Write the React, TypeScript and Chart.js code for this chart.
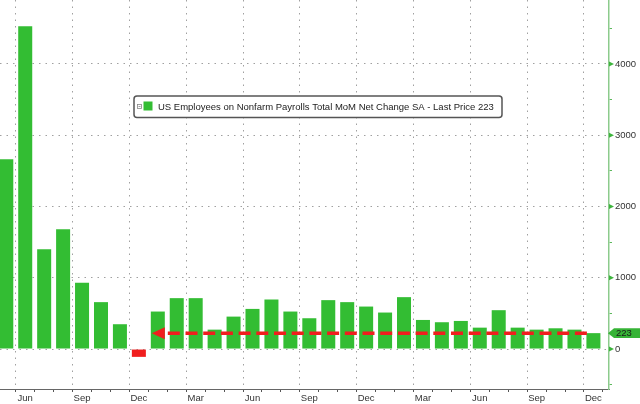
import React, { useEffect, useRef } from 'react';
import { Chart, registerables } from 'chart.js';

Chart.register(...registerables);

// ---- data ----
const MONTHS = [
  'May', 'Jun', 'Jul', 'Aug', 'Sep', 'Oct', 'Nov', 'Dec',
  'Jan', 'Feb', 'Mar', 'Apr', 'May', 'Jun', 'Jul', 'Aug', 'Sep', 'Oct', 'Nov', 'Dec',
  'Jan', 'Feb', 'Mar', 'Apr', 'May', 'Jun', 'Jul', 'Aug', 'Sep', 'Oct', 'Nov', 'Dec',
];
const VALUES = [
  2662, 4531, 1399, 1681, 930, 658, 348, -110,
  526, 714, 714, 272, 455, 563, 695, 526, 432, 686, 658, 596,
  512, 728, 408, 376, 394, 300, 545, 300, 272, 291, 272, 223,
];
const QUARTER_LABELS = ['Mar', 'Jun', 'Sep', 'Dec'];
const Y_TICKS = [-500, 0, 500, 1000, 1500, 2000, 2500, 3000, 3500, 4000, 4500];
const Y_MAJOR_TICKS = [0, 1000, 2000, 3000, 4000];
const LAST_PRICE = 223;
const ARROW_START_INDEX = 8; // Jan 2021
const SERIES_LABEL = 'US Employees on Nonfarm Payrolls Total MoM Net Change SA - Last Price 223';

// ---- view ----
const X_MIN = -0.332;
const X_MAX = 31.823;
const Y_MIN = -561;
const Y_MAX = 4898;

const GREEN = '#33bd33';
const RED = '#f01e1e';
const FONT_FAMILY = '"Liberation Sans", Arial, sans-serif';
const TEXT = '#333333';
const GRID = '#a0a0a0';

const isQuarter = (v: number) =>
  Number.isInteger(v) && v >= 0 && v < MONTHS.length && QUARTER_LABELS.includes(MONTHS[v]);
const isMajorY = (v: number) => Y_MAJOR_TICKS.includes(v);

const overlayPlugin = {
  id: 'overlay',
  afterDatasetsDraw(chart: any) {
    const { ctx, scales } = chart;
    const x = scales.x;
    const y = scales.y;
    const yv = y.getPixelForValue(LAST_PRICE);
    const x0 = x.getPixelForValue(ARROW_START_INDEX);
    const x1 = x.getPixelForValue(VALUES.length - 1);
    ctx.save();
    ctx.strokeStyle = RED;
    ctx.lineWidth = 3.5;
    ctx.setLineDash([12, 5.7]);
    ctx.beginPath();
    ctx.moveTo(x0 + 10, yv);
    ctx.lineTo(x1 - 2, yv);
    ctx.stroke();
    ctx.setLineDash([]);
    ctx.fillStyle = RED;
    ctx.beginPath();
    ctx.moveTo(x0 - 6, yv);
    ctx.lineTo(x0 + 7, yv - 6);
    ctx.lineTo(x0 + 7, yv + 6);
    ctx.closePath();
    ctx.fill();
    ctx.restore();
  },
  afterDraw(chart: any) {
    const { ctx, scales, width } = chart;
    const y = scales.y;
    const ax = y.left;
    ctx.save();
    // major tick arrowheads on the right axis
    ctx.fillStyle = '#3cb43c';
    Y_MAJOR_TICKS.forEach((v) => {
      const py = y.getPixelForValue(v);
      ctx.beginPath();
      ctx.moveTo(ax, py - 2.5);
      ctx.lineTo(ax + 5, py);
      ctx.lineTo(ax, py + 2.5);
      ctx.closePath();
      ctx.fill();
    });
    // last price tag
    const yv = y.getPixelForValue(LAST_PRICE);
    ctx.fillStyle = '#36b336';
    ctx.beginPath();
    ctx.moveTo(ax - 1, yv);
    ctx.lineTo(ax + 5, yv - 4.8);
    ctx.lineTo(width, yv - 4.8);
    ctx.lineTo(width, yv + 4.8);
    ctx.lineTo(ax + 5, yv + 4.8);
    ctx.closePath();
    ctx.fill();
    ctx.fillStyle = '#1a1a1a';
    ctx.font = `9.5px ${FONT_FAMILY}`;
    ctx.textBaseline = 'middle';
    ctx.textAlign = 'left';
    ctx.fillText(String(LAST_PRICE), ax + 7, yv + 0.5);

    // legend box
    const lx = 134, ly = 96, lw = 368, lh = 21.5;
    ctx.fillStyle = '#ffffff';
    ctx.strokeStyle = '#555555';
    ctx.lineWidth = 1.5;
    ctx.beginPath();
    ctx.roundRect(lx, ly, lw, lh, 3);
    ctx.fill();
    ctx.stroke();
    // collapse icon
    ctx.lineWidth = 0.8;
    ctx.strokeStyle = '#888888';
    ctx.strokeRect(137.5, 104.5, 4, 4);
    ctx.beginPath();
    ctx.moveTo(138.5, 106.5);
    ctx.lineTo(140.5, 106.5);
    ctx.stroke();
    // swatch
    ctx.fillStyle = GREEN;
    ctx.fillRect(143.5, 101.5, 9, 9);
    // text
    ctx.fillStyle = '#222222';
    ctx.font = `9.5px ${FONT_FAMILY}`;
    ctx.textBaseline = 'middle';
    ctx.fillText(SERIES_LABEL, 158, ly + lh / 2 + 0.5);
    ctx.restore();
  },
};

export default function App() {
  const canvasRef = useRef<HTMLCanvasElement | null>(null);

  useEffect(() => {
    document.body.style.margin = '0';
    const canvas = canvasRef.current;
    if (!canvas) return;
    const font = { family: FONT_FAMILY, size: 9.5 };
    const chart = new Chart(canvas, {
      type: 'bar',
      data: {
        datasets: [
          {
            label: SERIES_LABEL,
            data: VALUES.map((v, i) => ({ x: i, y: v })),
            backgroundColor: VALUES.map((v) => (v < 0 ? RED : GREEN)),
            borderWidth: 0,
            barPercentage: 0.74,
            categoryPercentage: 1,
          },
        ],
      },
      options: {
        responsive: false,
        animation: false,
        layout: { padding: 0 },
        plugins: {
          legend: { display: false },
          tooltip: { enabled: false },
        },
        scales: {
          x: {
            type: 'linear',
            min: X_MIN,
            max: X_MAX,
            offset: false,
            afterBuildTicks: (s: any) => {
              s.ticks = MONTHS.map((_, i) => ({ value: i }));
            },
            afterFit: (s: any) => {
              s.height = 15;
              s.paddingLeft = 0;
              s.paddingRight = 0;
            },
            ticks: {
              autoSkip: false,
              maxRotation: 0,
              minRotation: 0,
              padding: 1,
              color: TEXT,
              font,
              callback: (v: any) => (isQuarter(Number(v)) ? MONTHS[Number(v)] : ''),
            },
            grid: {
              color: (c: any) => (c.tick && isQuarter(c.tick.value) ? GRID : 'rgba(0,0,0,0)'),
              lineWidth: 1,
              tickColor: '#555555',
              tickLength: 3,
              tickBorderDash: [],
            },
            border: { display: true, color: '#666666', width: 1, dash: [1.5, 5] },
          },
          y: {
            type: 'linear',
            position: 'right',
            min: Y_MIN,
            max: Y_MAX,
            afterBuildTicks: (s: any) => {
              s.ticks = Y_TICKS.map((v) => ({ value: v }));
            },
            afterFit: (s: any) => {
              s.width = 31;
              s.paddingTop = 0;
              s.paddingBottom = 0;
            },
            ticks: {
              padding: 3,
              color: TEXT,
              font,
              callback: (v: any) => (isMajorY(Number(v)) ? String(v) : ''),
            },
            grid: {
              color: (c: any) => (c.tick && isMajorY(c.tick.value) ? GRID : 'rgba(0,0,0,0)'),
              lineWidth: 1,
              tickColor: '#5cb85c',
              tickLength: 3,
              tickBorderDash: [],
            },
            border: { display: true, color: '#8ccb8c', width: 1.5, dash: [1.5, 5] },
          },
        },
      },
      plugins: [overlayPlugin],
    } as any);
    return () => chart.destroy();
  }, []);

  return (
    <canvas
      ref={canvasRef}
      width={640}
      height={404}
      style={{ display: 'block', width: 640, height: 404 }}
    />
  );
}
